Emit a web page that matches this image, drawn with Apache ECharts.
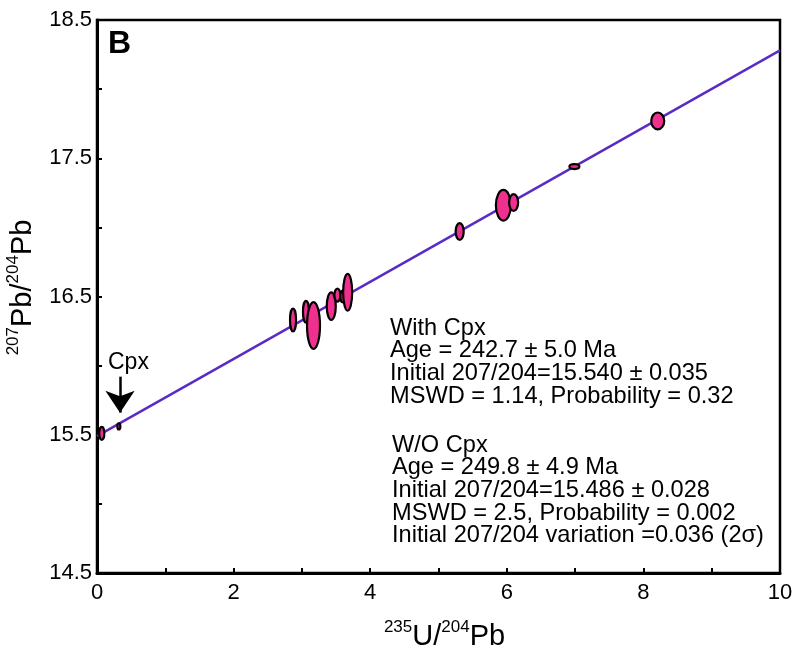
<!DOCTYPE html>
<html>
<head>
<meta charset="utf-8">
<script src="https://cdn.jsdelivr.net/npm/echarts@6/dist/echarts.min.js"></script>
<style>
  html, body { margin: 0; padding: 0; background: #fff; }
  #isochron_grp { width: 795px; height: 649px; }
</style>
</head>
<body>
<div id="isochron_grp"></div>
<script>
// sample data: 235U/204Pb, 207Pb/204Pb, half error x, half error y
const ratioU = [2.87, 3.06, 3.17, 3.43, 3.52, 3.60, 3.67, 5.31, 5.95, 6.10, 6.99, 8.21];
const ratioPb = [16.33, 16.39, 16.29, 16.43, 16.51, 16.50, 16.53, 16.97, 17.16, 17.18, 17.44, 17.77];
const errU = [0.044, 0.044, 0.095, 0.066, 0.044, 0.037, 0.066, 0.059, 0.110, 0.066, 0.073, 0.095];
const errPb = [0.083, 0.079, 0.169, 0.100, 0.047, 0.043, 0.133, 0.061, 0.111, 0.061, 0.018, 0.061];

// cpx points
const cpxU = [0.07, 0.32];
const cpxPb = [15.51, 15.56];
const cpxErrU = [0.037, 0.022];
const cpxErrPb = [0.047, 0.022];

// isochron line end points
const isoLine = [[0, 15.49], [10, 18.28]];

const xTicks = [0, 2, 4, 6, 8, 10];
const yTicks = [14.5, 15.5, 16.5, 17.5, 18.5];

const textWith = ['With Cpx', 'Age = 242.7 \u00b1 5.0 Ma', 'Initial 207/204=15.540 \u00b1 0.035', 'MSWD = 1.14, Probability = 0.32'];
const textWo = ['W/O Cpx', 'Age = 249.8 \u00b1 4.9 Ma', 'Initial 207/204=15.486 \u00b1 0.028', 'MSWD = 2.5, Probability = 0.002', 'Initial 207/204 variation =0.036 (2\u03c3)'];

const fontName = '"Liberation Sans", Arial, Helvetica, sans-serif';
const pinkFill = '#f0308f';
const lineColor = '#5a2bc4';

function buildEllipses(xs, ys, ex, ey) {
  return xs.map(function (v, i) { return [v, ys[i], ex[i], ey[i]]; });
}

function renderEllipse(params, api) {
  var c = api.coord([api.value(0), api.value(1)]);
  var s = api.size([api.value(2), api.value(3)]);
  return {
    type: 'ellipse',
    shape: { cx: c[0], cy: c[1], rx: Math.max(s[0], 1.5), ry: Math.max(s[1], 1.5) },
    style: { fill: pinkFill, stroke: '#000', lineWidth: 2.2 }
  };
}

var nameRich = {
  main: { fontSize: 29, color: '#000', fontFamily: fontName, verticalAlign: 'bottom', lineHeight: 32 },
  sup: { fontSize: 17, color: '#000', fontFamily: fontName, verticalAlign: 'top', lineHeight: 32, padding: [0, 0, 13, 0] }
};

var domIso = document.getElementById('isochron_grp');
var chartIso = echarts.init(domIso, null, { renderer: 'canvas' });

var optionIso = {
  backgroundColor: '#fff',
  animation: false,
  textStyle: { fontFamily: fontName },
  grid: {
    left: 97, right: 15, top: 20, bottom: 76,
    containLabel: false,
    outerBoundsMode: 'none',
    show: true, borderColor: '#000', borderWidth: 2.5, backgroundColor: 'transparent'
  },
  xAxis: {
    type: 'value',
    min: 0, max: 10, interval: 1,
    axisLine: { show: true, onZero: false, lineStyle: { color: '#000', width: 3 } },
    axisTick: { show: true, inside: true, length: 5, lineStyle: { color: '#000', width: 2 } },
    splitLine: { show: false },
    axisLabel: {
      color: '#000', fontSize: 22, fontFamily: fontName, margin: 9,
      formatter: function (v) { return xTicks.indexOf(v) >= 0 ? String(v) : ''; }
    },
    name: '{sup|235}{main|U/}{sup|204}{main|Pb}',
    nameLocation: 'middle',
    nameGap: 46,
    nameTextStyle: { rich: nameRich, padding: [0, 0, 0, 12] }
  },
  yAxis: {
    type: 'value',
    min: 14.5, max: 18.5, interval: 0.5,
    axisLine: { show: true, onZero: false, lineStyle: { color: '#000', width: 3 } },
    axisTick: { show: true, inside: true, length: 5, lineStyle: { color: '#000', width: 2 } },
    splitLine: { show: false },
    axisLabel: {
      color: '#000', fontSize: 22, fontFamily: fontName, margin: 5,
      formatter: function (v) {
        for (var i = 0; i < yTicks.length; i++) {
          if (Math.abs(yTicks[i] - v) < 1e-6) return yTicks[i].toFixed(1);
        }
        return '';
      }
    },
    name: '{sup|207}{main|Pb/}{sup|204}{main|Pb}',
    nameLocation: 'middle',
    nameGap: 60,
    nameRotate: 90,
    nameTextStyle: { rich: nameRich, padding: [0, 0, 0, 18] }
  },
  series: [
    {
      name: 'isochron',
      type: 'line',
      data: isoLine,
      symbol: 'none',
      lineStyle: { color: lineColor, width: 2.4 },
      z: 2,
      markLine: {
        silent: true,
        symbol: ['none', 'arrow'],
        symbolSize: [22, 22],
        lineStyle: { color: '#000', width: 2.5, type: 'solid' },
        label: { show: false },
        data: [[{ coord: [0.337, 15.92] }, { coord: [0.337, 15.66] }]]
      }
    },
    {
      name: 'samples',
      type: 'custom',
      renderItem: renderEllipse,
      data: buildEllipses(ratioU, ratioPb, errU, errPb),
      z: 3
    },
    {
      name: 'cpx',
      type: 'custom',
      renderItem: renderEllipse,
      data: buildEllipses(cpxU, cpxPb, cpxErrU, cpxErrPb),
      z: 3
    }
  ],
  graphic: [
    { type: 'text', left: 108, top: 28, style: { text: 'B', font: 'bold 32px ' + fontName, fill: '#000' } },
    { type: 'text', left: 108, top: 351, style: { text: 'Cpx', font: '23px ' + fontName, fill: '#000' } },
    { type: 'text', left: 390, top: 316, style: { text: textWith.join('\n'), font: '23.6px ' + fontName, lineHeight: 22.7, fill: '#000' } },
    { type: 'text', left: 392, top: 433, style: { text: textWo.join('\n'), font: '23.6px ' + fontName, lineHeight: 22.7, fill: '#000' } }
  ]
};

if (optionIso && typeof optionIso === 'object') {
  chartIso.setOption(optionIso);
}

window.addEventListener('resize', chartIso.resize);
</script>
</body>
</html>
